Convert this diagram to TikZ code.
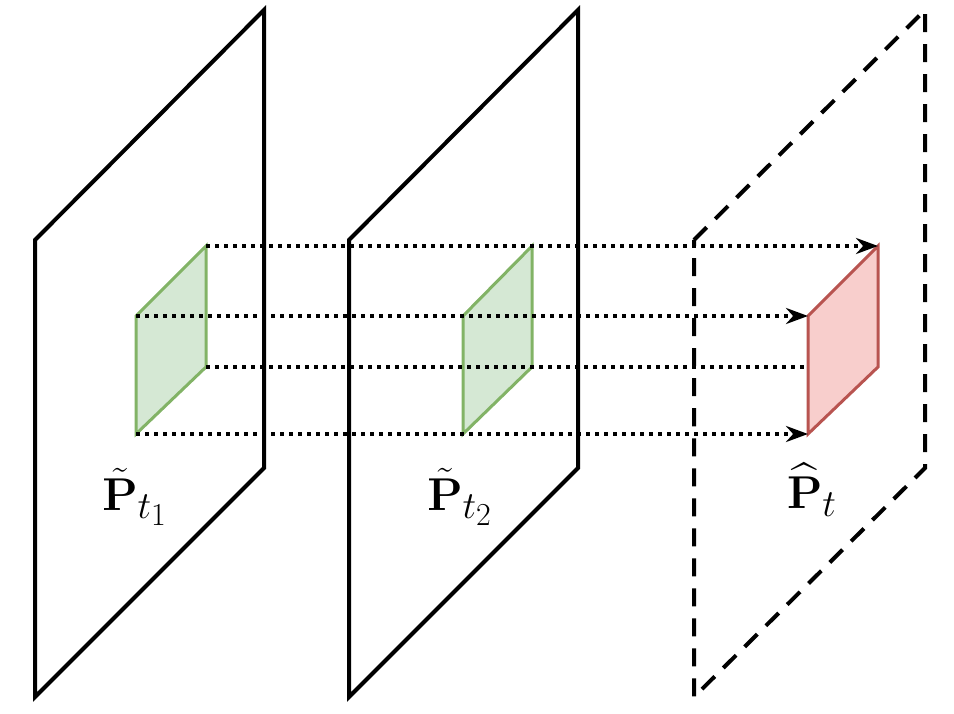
\documentclass[tikz,border=0pt]{standalone}
\usepackage{amsmath}
\usetikzlibrary{arrows.meta}
\definecolor{gfill}{HTML}{D5E8D4}\definecolor{gline}{HTML}{82B366}
\definecolor{rfill}{HTML}{F8CECC}\definecolor{rline}{HTML}{B85450}
\tikzset{plane/.style={line width=4pt,line join=miter},
patch/.style={line width=3pt},
dotl/.style={line width=4pt,dash pattern=on 4pt off 5pt},
arr/.style={dotl,-{Stealth[length=22pt,width=16pt]}},
lbl/.style={font=\Huge}}
\newcommand{\biglbl}[1]{\scalebox{1.85}{#1}}
\begin{document}
\begin{tikzpicture}[x=1pt,y=-1pt]
\useasboundingbox (0,0) rectangle (954,714);
\draw[plane] (35,240)--(264,10)--(264,468)--(35,697)--cycle;
\draw[plane] (349,240)--(578,10)--(578,468)--(349,697)--cycle;
\draw[plane,dash pattern=on 18pt off 12pt] (694,240)--(925,10)--(925,468)--(694,697)--cycle;
\draw[patch,draw=gline,fill=gfill] (136,316) coordinate(a1)--(206,246) coordinate(a2)--(206,367) coordinate(a3)--(136,434) coordinate(a4)--cycle;
\draw[patch,draw=gline,fill=gfill] (463,316)--(532,246)--(532,367)--(463,434)--cycle;
\draw[patch,draw=rline,fill=rfill] (808,316) coordinate(c1)--(878,246) coordinate(c2)--(878,367) coordinate(c3)--(808,434) coordinate(c4)--cycle;
\draw[arr] (a2)--(c2);
\draw[arr] (a1)--(c1);
\draw[dotl] (a3)--(c3-|c1);
\draw[arr] (a4)--(c4);
\node[lbl] (l1) at (135,497) {\biglbl{$\tilde{\mathbf P}_{t_1}$}};
\node[lbl] (l2) at (460,497) {\biglbl{$\tilde{\mathbf P}_{t_2}$}};
\node[lbl] (l3) at (812,490) {\biglbl{$\widehat{\mathbf P}_{t}$}};
\end{tikzpicture}
\end{document}
